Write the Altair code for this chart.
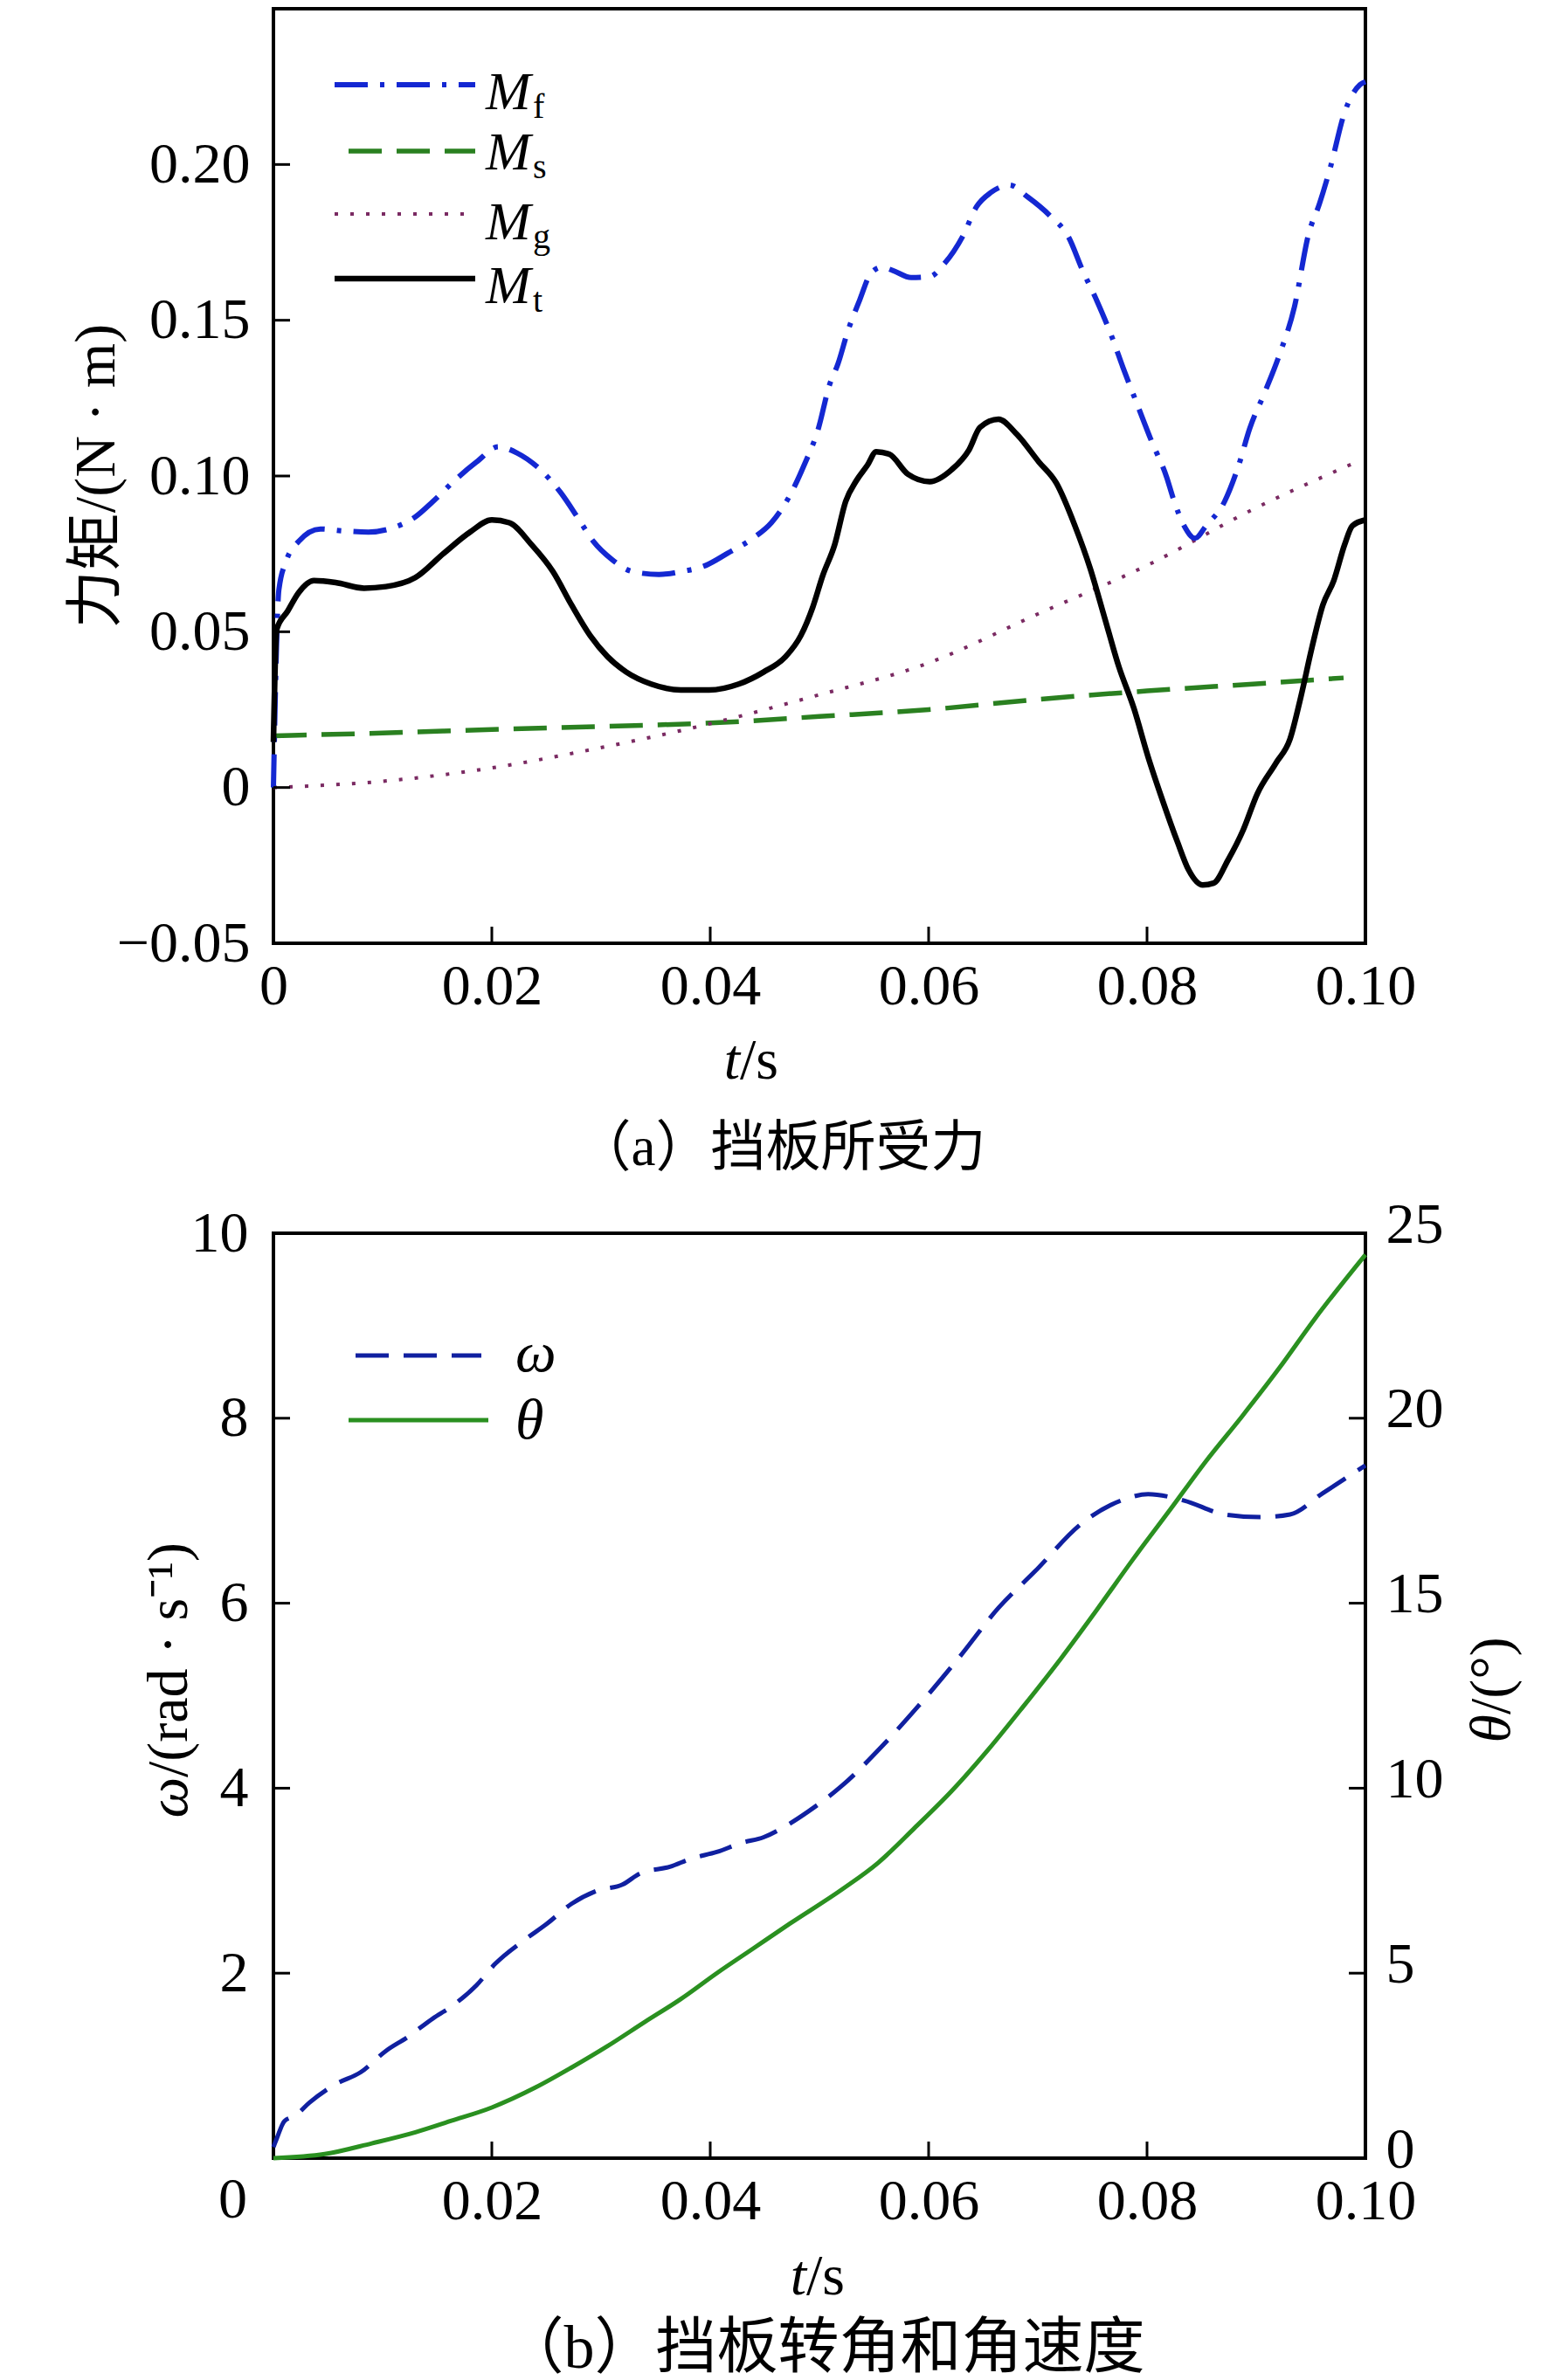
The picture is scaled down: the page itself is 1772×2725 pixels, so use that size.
import altair as alt
import pandas as pd

# ---- (a) moments on the baffle ----
T_MF = [0, 0.0005, 0.0012, 0.0023, 0.0043, 0.0063, 0.0087, 0.0106, 0.013, 0.0146,
        0.0166, 0.0186, 0.0206, 0.0223, 0.0243, 0.0263, 0.028, 0.0293, 0.031, 0.0329,
        0.0353, 0.0373, 0.0396, 0.0416, 0.0439, 0.0456, 0.0473, 0.0486, 0.0499, 0.0509,
        0.0517, 0.0526, 0.0537, 0.0547, 0.0557, 0.0567, 0.0584, 0.0601, 0.0614, 0.0631,
        0.0644, 0.0657, 0.0674, 0.0691, 0.0711, 0.0728, 0.0741, 0.0754, 0.0768, 0.0778,
        0.0791, 0.0804, 0.0818, 0.0824, 0.0834, 0.0844, 0.0854, 0.0871, 0.0884, 0.0894,
        0.0908, 0.0921, 0.0935, 0.0948, 0.0958, 0.0968, 0.0981, 0.0995, 0.1]
MF = [0.0, 0.0635, 0.073, 0.079, 0.083, 0.0824, 0.082, 0.083, 0.0869, 0.0918,
      0.0986, 0.1045, 0.1094, 0.1074, 0.1025, 0.0947, 0.0859, 0.079, 0.0732, 0.0693,
      0.0684, 0.0693, 0.0713, 0.0752, 0.080, 0.085, 0.0938, 0.1035, 0.1152, 0.129,
      0.136, 0.1465, 0.1566, 0.165, 0.167, 0.166, 0.1637, 0.164, 0.168, 0.1768,
      0.1865, 0.191, 0.1934, 0.1895, 0.1836, 0.1768, 0.166, 0.1563, 0.1445, 0.1348,
      0.123, 0.1113, 0.0996, 0.0928, 0.084, 0.080, 0.084, 0.0918, 0.1035, 0.1152,
      0.127, 0.1387, 0.1543, 0.1777, 0.1875, 0.1992, 0.2168, 0.2256, 0.2266]

T_MT = [0, 0.0003, 0.0013, 0.0023, 0.0037, 0.0057, 0.0083, 0.0103, 0.013, 0.0156,
        0.018, 0.02, 0.0216, 0.0236, 0.0256, 0.0273, 0.029, 0.0306, 0.0323, 0.0346,
        0.0373, 0.0399, 0.0426, 0.0449, 0.0469, 0.0483, 0.0494, 0.0503, 0.0514, 0.0524,
        0.0534, 0.0544, 0.0552, 0.0564, 0.0581, 0.0601, 0.0621, 0.0637, 0.0647, 0.0664,
        0.0681, 0.0701, 0.0717, 0.0734, 0.0748, 0.0761, 0.0774, 0.0788, 0.0801, 0.0814,
        0.0828, 0.0838, 0.0851, 0.0861, 0.0874, 0.0888, 0.0901, 0.0918, 0.0931, 0.0941,
        0.0951, 0.0961, 0.0971, 0.0981, 0.0988, 0.1]
MT = [0.0146, 0.0508, 0.0566, 0.0625, 0.0664, 0.0658, 0.064, 0.0645, 0.0674, 0.0752,
      0.082, 0.0859, 0.085, 0.0781, 0.0693, 0.0586, 0.0488, 0.042, 0.0371, 0.0332,
      0.0313, 0.0313, 0.0332, 0.0371, 0.042, 0.0488, 0.058, 0.068, 0.078, 0.0918,
      0.0986, 0.1035, 0.1078, 0.107, 0.1006, 0.0982, 0.102, 0.1084, 0.1156, 0.1182,
      0.1133, 0.1045, 0.0977, 0.084, 0.0703, 0.0547, 0.039, 0.0254, 0.0098, -0.0039,
      -0.0176, -0.0264, -0.0313, -0.0307, -0.0234, -0.0137, -0.002, 0.0078, 0.0156, 0.0293,
      0.0449, 0.0586, 0.0664, 0.078, 0.084, 0.0859]

T_MS = [0, 0.01, 0.02, 0.03, 0.04, 0.05, 0.06, 0.07, 0.08, 0.09, 0.098]
MS = [0.0166, 0.0175, 0.0186, 0.0196, 0.0207, 0.0228, 0.025, 0.0283, 0.031, 0.0333, 0.0352]

T_MG = [0, 0.01, 0.02, 0.029, 0.04, 0.0495, 0.06, 0.07, 0.08, 0.09, 0.0988]
MG = [0.0, 0.002, 0.0063, 0.0121, 0.0205, 0.0293, 0.040, 0.0557, 0.0713, 0.0898, 0.1039]

# ---- (b) baffle angle and angular velocity ----
T_W = [0, 0.0003, 0.001, 0.002, 0.0033, 0.0057, 0.008, 0.0103, 0.0123, 0.0146,
       0.0163, 0.0186, 0.0203, 0.023, 0.025, 0.0273, 0.0296, 0.032, 0.0336, 0.0363,
       0.0383, 0.0406, 0.0429, 0.0449, 0.0469, 0.049, 0.0521, 0.0557, 0.059, 0.0627,
       0.0664, 0.0697, 0.0741, 0.0781, 0.0801, 0.0834, 0.0871, 0.0904, 0.0931, 0.0961, 0.1]
OMEGA = [0.12, 0.21, 0.40, 0.46, 0.60, 0.80, 0.93, 1.16, 1.31, 1.51,
         1.64, 1.87, 2.10, 2.36, 2.53, 2.75, 2.89, 2.96, 3.08, 3.15,
         3.24, 3.31, 3.41, 3.47, 3.59, 3.75, 4.03, 4.45, 4.88, 5.40,
         5.95, 6.34, 6.87, 7.13, 7.18, 7.11, 6.96, 6.93, 6.96, 7.19, 7.49]

T_TH = [0, 0.0047, 0.009, 0.013, 0.0163, 0.02, 0.024, 0.0273, 0.0306, 0.034,
        0.0373, 0.0406, 0.0439, 0.0473, 0.0521, 0.0554, 0.0587, 0.0621, 0.0654, 0.0687,
        0.0721, 0.0754, 0.0787, 0.0821, 0.0854, 0.0887, 0.0921, 0.0954, 0.1]
THETA = [0, 0.11, 0.40, 0.70, 1.01, 1.37, 1.91, 2.45, 3.03, 3.68,
         4.30, 5.00, 5.66, 6.34, 7.27, 7.99, 8.92, 9.92, 11.02, 12.22,
         13.50, 14.82, 16.18, 17.52, 18.84, 20.05, 21.35, 22.70, 24.42]

X_LABELS_TOP = [0, 0.02, 0.04, 0.06, 0.08, 0.1]
X_LABELS_BOT = [0.02, 0.04, 0.06, 0.08, 0.1]
X_TICKS = [0.02, 0.04, 0.06, 0.08]
Y_LABELS_TOP = [-0.05, 0, 0.05, 0.1, 0.15, 0.2]
Y_TICKS_TOP = [0, 0.05, 0.1, 0.15, 0.2]
W_LABELS = [2, 4, 6, 8, 10]
W_TICKS = [2, 4, 6, 8]
TH_LABELS = [0, 5, 10, 15, 20, 25]

SERIF = "Liberation Serif"
MIXED = "Liberation Serif, Noto Sans CJK SC"
WIDTH = 1250
H_TOP = 1070
H_BOT = 1059
TICK = 19

C_MF = "#1428D2"
C_MS = "#2A8020"
C_MG = "#7A2A62"
C_W = "#1020A0"
C_TH = "#2A9020"

X_SCALE = alt.Scale(domain=[0, 0.1], nice=False, zero=False)
Y_SCALE_TOP = alt.Scale(domain=[-0.05, 0.25], nice=False, zero=False)
W_SCALE = alt.Scale(domain=[0, 10], nice=False)
TH_SCALE = alt.Scale(domain=[0, 25], nice=False)

ONE = pd.DataFrame({"k": [0]})


def text(s, x, y, size=66, align="left", baseline="alphabetic", angle=0, italic=False, font=SERIF):
    return (
        alt.Chart(pd.DataFrame({"s": [s]}))
        .mark_text(
            align=align,
            baseline=baseline,
            angle=angle,
            fontSize=size,
            font=font,
            fontStyle="italic" if italic else "normal",
            color="black",
        )
        .encode(x=alt.value(x), y=alt.value(y), text="s:N")
    )


def swatch(x1, x2, y, color, width, dash=None):
    kw = {"color": color, "strokeWidth": width}
    if dash:
        kw["strokeDash"] = dash
    return alt.Chart(ONE).mark_rule(**kw).encode(x=alt.value(x1), x2=alt.value(x2), y=alt.value(y))


def series(t, v, x_axis, y_scale, y_axis, color, width, dash=None):
    kw = {"color": color, "strokeWidth": width, "interpolate": "monotone"}
    if dash:
        kw["strokeDash"] = dash
    return (
        alt.Chart(pd.DataFrame({"t": t, "v": v}))
        .mark_line(**kw)
        .encode(
            x=alt.X("t:Q", scale=X_SCALE, axis=x_axis),
            y=alt.Y("v:Q", scale=y_scale, axis=y_axis),
        )
    )


# inward ticks, drawn as rules because tickSize cannot be negative
def y_ticks(values, y_scale, y_axis, x1, x2):
    return (
        alt.Chart(pd.DataFrame({"v": values}))
        .mark_rule(color="black", strokeWidth=3)
        .encode(y=alt.Y("v:Q", scale=y_scale, axis=y_axis), x=alt.value(x1), x2=alt.value(x2))
    )


def x_ticks(values, x_axis, h):
    return (
        alt.Chart(pd.DataFrame({"t": values}))
        .mark_rule(color="black", strokeWidth=3)
        .encode(x=alt.X("t:Q", scale=X_SCALE, axis=x_axis), y=alt.value(h - TICK), y2=alt.value(h))
    )


def top_chart() -> alt.LayerChart:
    x_axis = alt.Axis(
        values=X_LABELS_TOP,
        labelExpr="datum.value == 0 ? '0' : format(datum.value, '.2f')",
        title=None,
        labelPadding=17,
    )
    y_axis = alt.Axis(
        values=Y_LABELS_TOP,
        labelExpr="datum.value == 0 ? '0' : replace(format(datum.value, '.2f'), '-', '\u2212')",
        title=None,
        labelPadding=27,
    )
    lines = [
        series(T_MS, MS, x_axis, Y_SCALE_TOP, y_axis, C_MS, 5.5, [38, 17]),
        series(T_MG, MG, x_axis, Y_SCALE_TOP, y_axis, C_MG, 4, [4, 14]),
        series(T_MF, MF, x_axis, Y_SCALE_TOP, y_axis, C_MF, 6, [38, 14, 5, 14]),
        series(T_MT, MT, x_axis, Y_SCALE_TOP, y_axis, "black", 6.5),
    ]
    legend = [
        swatch(70, 231, 87, C_MF, 6, [38, 14, 5, 14]),
        swatch(86, 231, 163, C_MS, 5.5, [38, 17]),
        swatch(70, 231, 235, C_MG, 4, [4, 14]),
        swatch(70, 231, 309, "black", 6.5),
    ]
    for sub, base in [("f", 115), ("s", 184), ("g", 264), ("t", 337)]:
        legend.append(text("M", 243, base, size=62, italic=True))
        legend.append(text(sub, 297, base + 10, size=40))
    titles = [
        text("力矩/(N · m)", -202, 535, align="center", baseline="middle", angle=270, font=MIXED),
        text("t", 534, 1225, align="right", italic=True),
        text("/s", 534, 1225),
        text("（a）挡板所受力", 581, 1305, size=63, align="center", baseline="middle", font=MIXED),
    ]
    ticks = [
        y_ticks(Y_TICKS_TOP, Y_SCALE_TOP, y_axis, 0, TICK),
        x_ticks(X_TICKS, x_axis, H_TOP),
    ]
    return alt.layer(*lines, *ticks, *legend, *titles).properties(width=WIDTH, height=H_TOP)


def bottom_chart() -> alt.LayerChart:
    x_axis = alt.Axis(values=X_LABELS_BOT, format=".2f", title=None, labelPadding=17)
    w_axis = alt.Axis(values=W_LABELS, format="d", orient="left", title=None, labelPadding=29)
    th_axis = alt.Axis(values=TH_LABELS, format="d", orient="right", title=None,
                       labelPadding=23, labelOffset=-10)
    lines = [
        series(T_W, OMEGA, x_axis, W_SCALE, w_axis, C_W, 5, [38, 17]),
        series(T_TH, THETA, x_axis, TH_SCALE, th_axis, C_TH, 5),
    ]
    ticks = [
        y_ticks(W_TICKS, W_SCALE, None, 0, TICK),
        y_ticks(W_TICKS, W_SCALE, None, WIDTH - TICK, WIDTH),
        x_ticks(X_TICKS, x_axis, H_BOT),
    ]
    legend = [
        swatch(94, 238, 140, C_W, 5, [38, 17]),
        swatch(86, 246, 214, C_TH, 5),
        text("ω", 277, 158, italic=True),
        text("θ", 277, 235, italic=True),
    ]
    titles = [
        text("0", -30, H_BOT + 48, align="right", baseline="middle"),
        text("ω", -119, 623, align="right", baseline="middle", angle=270, italic=True),
        text("/(rad · s⁻¹)", -119, 623, align="left", baseline="middle", angle=270),
        text("θ", 1395, 551, align="right", baseline="middle", angle=270, italic=True),
        text("/(°)", 1395, 551, align="left", baseline="middle", angle=270),
        text("t", 610, 1215, align="right", italic=True),
        text("/s", 610, 1215),
        text("（b）挡板转角和角速度", 630, 1278, size=70, align="center", baseline="middle", font=MIXED),
    ]
    return (
        alt.layer(*lines, *ticks, *legend, *titles)
        .resolve_scale(y="independent")
        .properties(width=WIDTH, height=H_BOT)
    )


def main() -> None:
    chart = (
        alt.vconcat(top_chart(), bottom_chart(), spacing=332, bounds="flush")
        .properties(padding={"left": 68, "top": 0, "right": 0, "bottom": 0})
        .configure_axis(
            labelFont=SERIF,
            labelFontSize=66,
            labelColor="black",
            labelFlush=False,
            labelOverlap=False,
            grid=False,
            domain=False,
            ticks=False,
            tickSize=0,
        )
        .configure_view(stroke="black", strokeWidth=4)
    )
    chart.save("out.html", embed_options={"renderer": "svg", "actions": False})


if __name__ == "__main__":
    main()
